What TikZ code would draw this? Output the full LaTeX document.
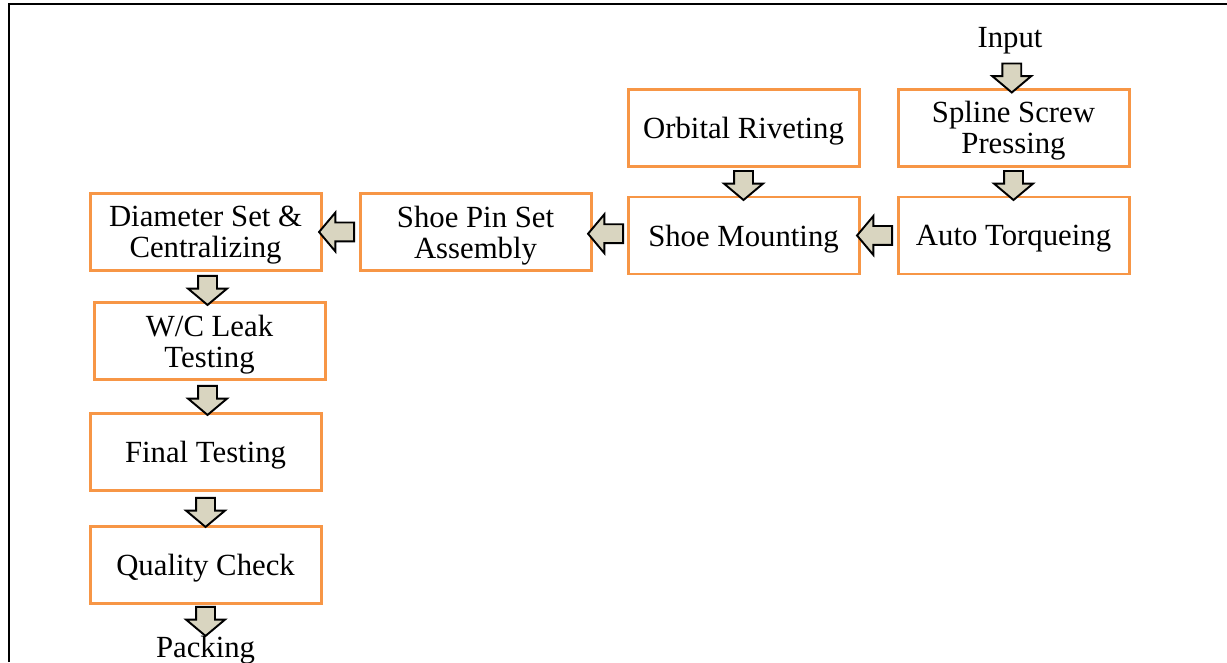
\documentclass[tikz,border=0pt]{standalone}
\usepackage{fontspec}
\setmainfont{Liberation Serif}
\usetikzlibrary{shapes,arrows,positioning,calc}

\definecolor{boxorange}{HTML}{F79646}
\definecolor{arrowfill}{HTML}{D9D5C0}

\begin{document}
\begin{tikzpicture}[
			process/.style={rectangle, draw=boxorange, line width=1.7pt, minimum width=4.62cm, minimum height=1.54cm, align=center, text depth=0pt, font=\fontsize{17.5}{17.6}\selectfont},
			label/.style={font=\fontsize{17.5}{17.6}\selectfont},
			flowarrow/.style={single arrow, draw=black, line width=1.1pt, fill=arrowfill, inner sep=0.17cm, minimum width=0pt, single arrow head extend=0.2cm, single arrow tip angle=100},
			downflow/.style={flowarrow, shape border rotate=270, minimum height=0.58cm},
			leftflow/.style={flowarrow, shape border rotate=180, minimum height=0.7cm}
		]
		% page and frame
		\useasboundingbox (0,0) rectangle (24.54,-13.24);
		\draw[line width=1.7pt] (0.18,-13.24) -- (0.18,-0.08) -- (24.54,-0.08);

		% Right column
		\node[process] (spline) at (20.27,-2.55) {Spline Screw\\Pressing};
		\node[process, below=0.56 of spline] (auto) {Auto Torqueing};
		\node[label, above=0.54 of spline, xshift=-0.07cm] (input) {Input};

		% Middle row
		\node[process, left=0.72 of spline] (orbital) {Orbital Riveting};
		\node[process, left=0.72 of auto] (mounting) {Shoe Mounting};
		\node[process, left=0.68 of mounting, yshift=0.07cm] (pinset) {Shoe Pin Set\\Assembly};
		\node[process, left=0.72 of pinset] (diameter) {Diameter Set \&\\Centralizing};

		% Left column
		\node[process, below=0.58 of diameter, xshift=0.08cm] (leak) {W/C Leak\\Testing};
		\node[process, below=0.62 of leak, xshift=-0.08cm] (final) {Final Testing};
		\node[process, below=0.66 of final] (quality) {Quality Check};
		\node[label, below=0.5 of quality] (packing) {Packing};

		% Flow arrows
		\node[downflow] (a1) at ($(input.south)!0.5!(spline.north)$) {};
		\node[downflow] (a2) at ($(spline.south)!0.5!(auto.north)$) {};
		\node[downflow] (a3) at ($(orbital.south)!0.5!(mounting.north)$) {};
		\node[leftflow] (a4) at ($(auto.west)!0.5!(mounting.east)$) {};
		\node[leftflow] (a5) at ($(mounting.west)!0.5!(pinset.east)$) {};
		\node[leftflow] (a6) at ($(pinset.west)!0.5!(diameter.east)$) {};
		\node[downflow] (a7) at ($(diameter.south)!0.5!(leak.north)$) {};
		\node[downflow] (a8) at ($(leak.south)!0.5!(final.north)$) {};
		\node[downflow] (a9) at ($(final.south)!0.5!(quality.north)$) {};
		\node[downflow] (a10) at ($(quality.south)!0.5!(packing.north)$) {};

	\end{tikzpicture}
\end{document}
